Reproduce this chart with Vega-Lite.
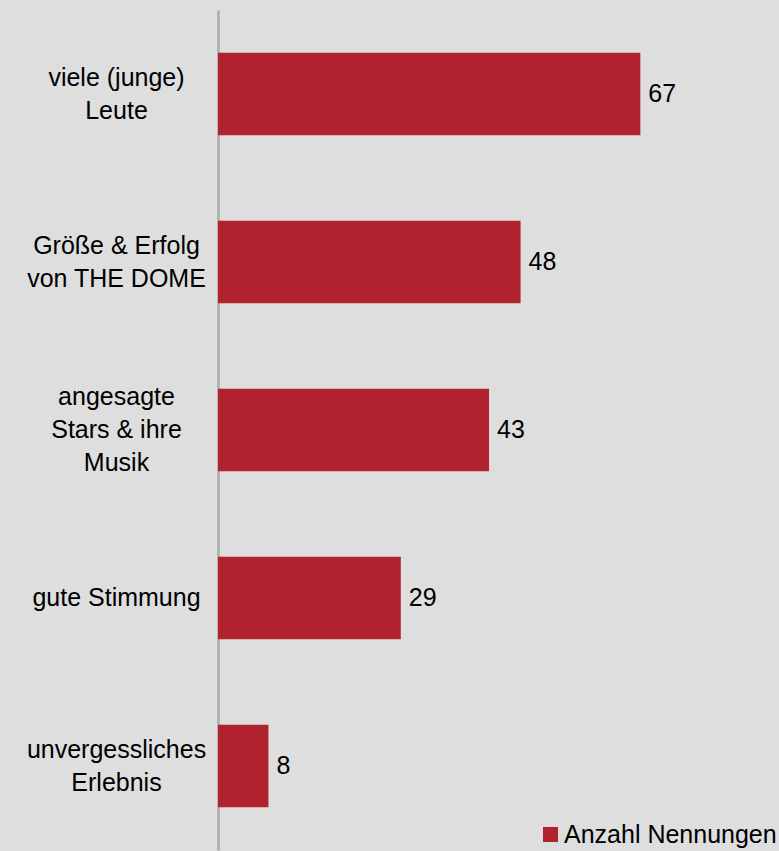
{
  "$schema": "https://vega.github.io/schema/vega-lite/v6.json",
  "autosize": "none",
  "width": 561,
  "height": 840,
  "padding": {"left": 218, "top": 10, "right": 0, "bottom": 1},
  "background": "#dedede",
  "config": {
    "view": {"stroke": null},
    "font": "Liberation Sans"
  },
  "data": {
    "values": [
      {"kategorie": "viele (junge)|Leute", "anzahl": 67, "serie": "Anzahl Nennungen"},
      {"kategorie": "Größe & Erfolg|von THE DOME", "anzahl": 48, "serie": "Anzahl Nennungen"},
      {"kategorie": "angesagte|Stars & ihre|Musik", "anzahl": 43, "serie": "Anzahl Nennungen"},
      {"kategorie": "gute Stimmung", "anzahl": 29, "serie": "Anzahl Nennungen"},
      {"kategorie": "unvergessliches|Erlebnis", "anzahl": 8, "serie": "Anzahl Nennungen"}
    ]
  },
  "encoding": {
    "y": {
      "field": "kategorie",
      "type": "nominal",
      "sort": null,
      "scale": {"paddingInner": 0.51, "paddingOuter": 0.255},
      "axis": {
        "title": null,
        "ticks": false,
        "domainColor": "#b3b3b3",
        "domainWidth": 3,
        "labelExpr": "split(datum.label, '|')",
        "labelAlign": "center",
        "labelBaseline": "middle",
        "labelPadding": 102,
        "labelOffset": {
          "condition": [
            {"test": "length(split(datum.value, '|')) == 3", "value": -33},
            {"test": "length(split(datum.value, '|')) == 2", "value": -16}
          ],
          "value": 0
        },
        "labelFontSize": 25,
        "labelLineHeight": 33,
        "labelColor": "#000000",
        "labelFont": "Liberation Sans",
        "labelLimit": 300
      }
    },
    "x": {
      "field": "anzahl",
      "type": "quantitative",
      "scale": {"domain": [0, 89], "nice": false},
      "axis": null
    }
  },
  "layer": [
    {
      "mark": {"type": "bar", "cornerRadius": 0},
      "encoding": {
        "color": {
          "field": "serie",
          "type": "nominal",
          "scale": {"range": ["#b0232e"]},
          "legend": {
            "title": null,
            "orient": "bottom-right",
            "offset": 2,
            "padding": 0,
            "symbolType": "square",
            "symbolSize": 225,
            "symbolStrokeWidth": 0,
            "labelFontSize": 25,
            "labelColor": "#000000",
            "labelFont": "Liberation Sans",
            "labelOffset": 1,
            "labelLimit": 400
          }
        }
      }
    },
    {
      "mark": {"type": "text", "align": "left", "baseline": "middle", "dx": 8, "fontSize": 25, "color": "#000000", "font": "Liberation Sans"},
      "encoding": {
        "text": {"field": "anzahl", "type": "quantitative"}
      }
    }
  ]
}
